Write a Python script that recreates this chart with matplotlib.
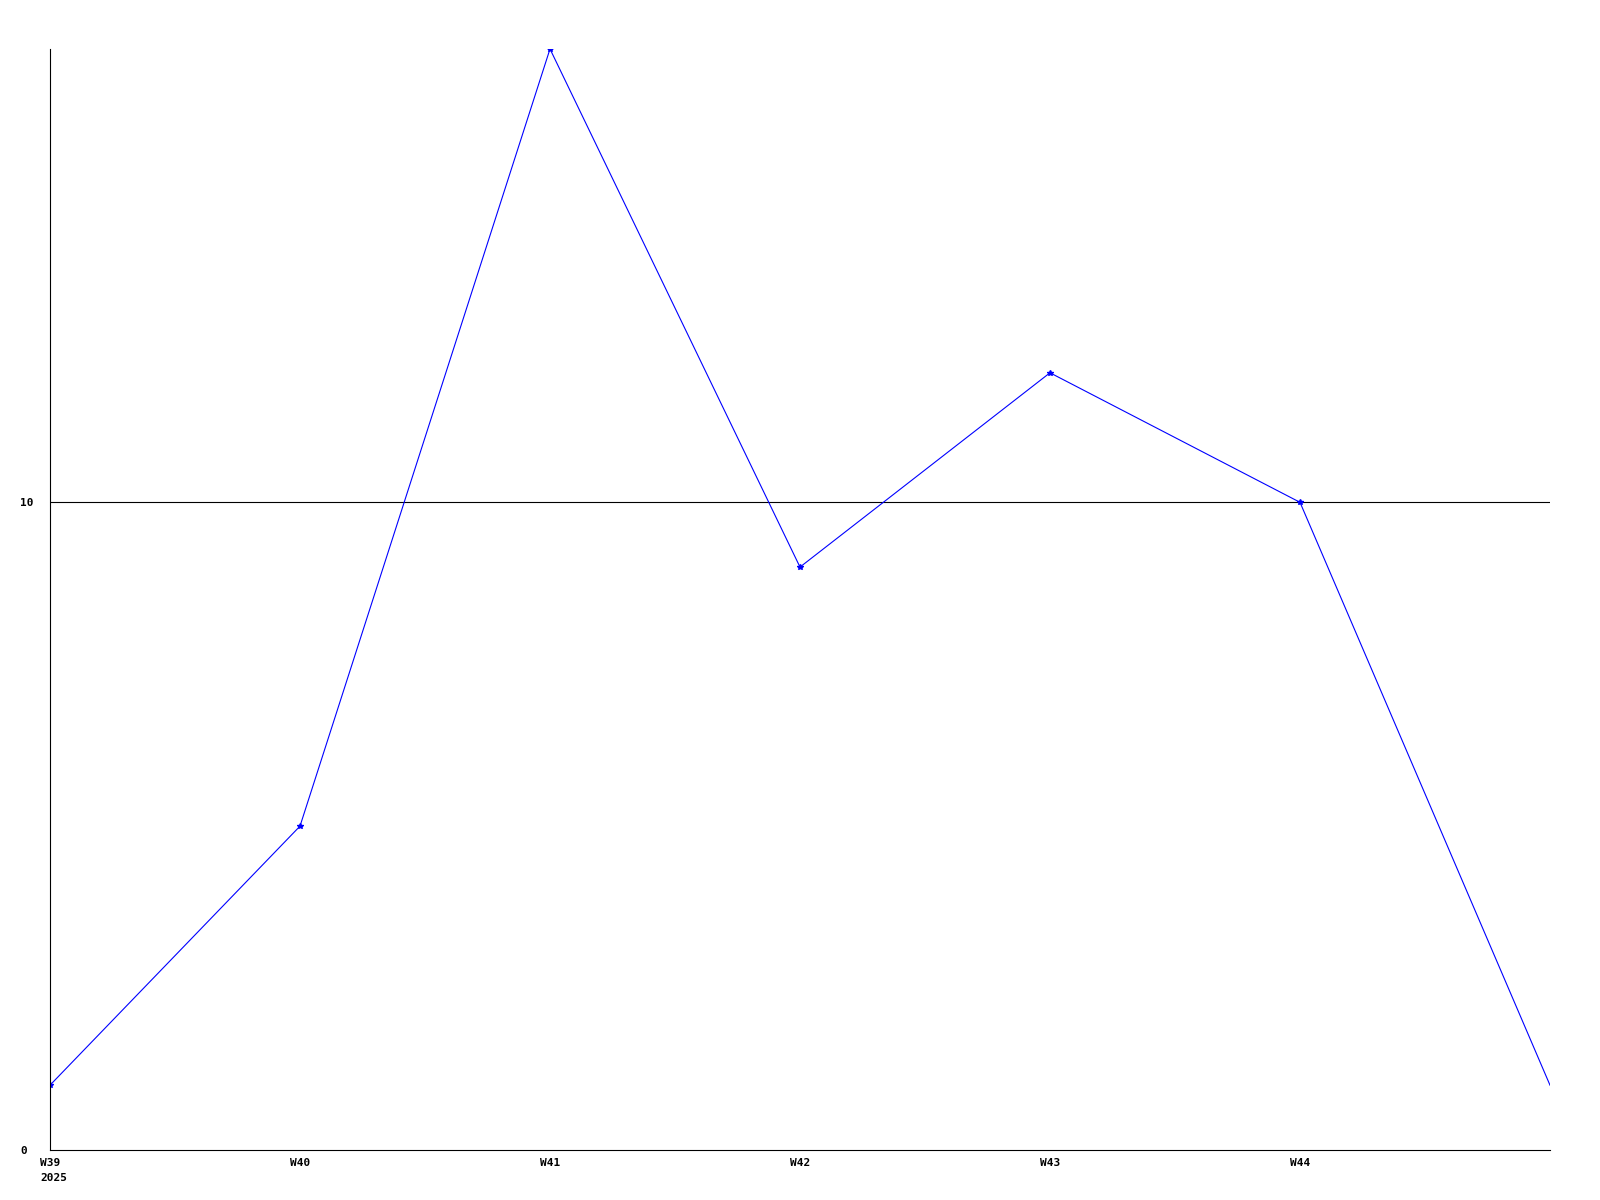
import matplotlib
matplotlib.use("Agg")

import matplotlib.pyplot as plt

weeks = ["W39", "W40", "W41", "W42", "W43", "W44", ""]
year_label = "2025"
counts = [1, 5, 17, 9, 12, 10, 1]
y_ticks = [0, 10]

FONT = dict(family="DejaVu Sans Mono", fontweight="bold", fontsize=8)


def main() -> None:
    fig = plt.figure(figsize=(16, 12), dpi=100)
    ax = fig.add_axes([0.03125, 0.0417, 0.9375, 0.9175])

    x = list(range(len(counts)))
    ax.plot(x, counts, color="#0000ff", linewidth=0.8,
            marker="*", markersize=4, markevery=list(range(len(counts) - 1)))

    ax.set_xlim(0, len(counts) - 1)
    ax.set_ylim(0, max(counts))

    ax.set_xticks(x)
    ax.set_xticklabels(weeks, **FONT)
    ax.set_yticks(y_ticks)
    ax.set_yticklabels([str(v) for v in y_ticks], ha="left", **FONT)
    ax.tick_params(axis="both", length=0)
    ax.tick_params(axis="y", pad=21.6)  # left edge of labels ~30px from axis
    ax.tick_params(axis="x", pad=6)

    # year under the first week label
    ax.annotate(year_label, xy=(0, 0), xycoords=("data", "axes fraction"),
                xytext=(-10, -23), textcoords="offset pixels",
                ha="left", va="top", **FONT)

    for v in y_ticks[1:]:
        ax.axhline(v, color="black", linewidth=0.8, zorder=1)

    ax.spines["top"].set_visible(False)
    ax.spines["right"].set_visible(False)
    for side in ("left", "bottom"):
        ax.spines[side].set_linewidth(0.8)
        ax.spines[side].set_color("black")

    fig.savefig("out.png", dpi=100)
    plt.close(fig)


if __name__ == "__main__":
    main()
